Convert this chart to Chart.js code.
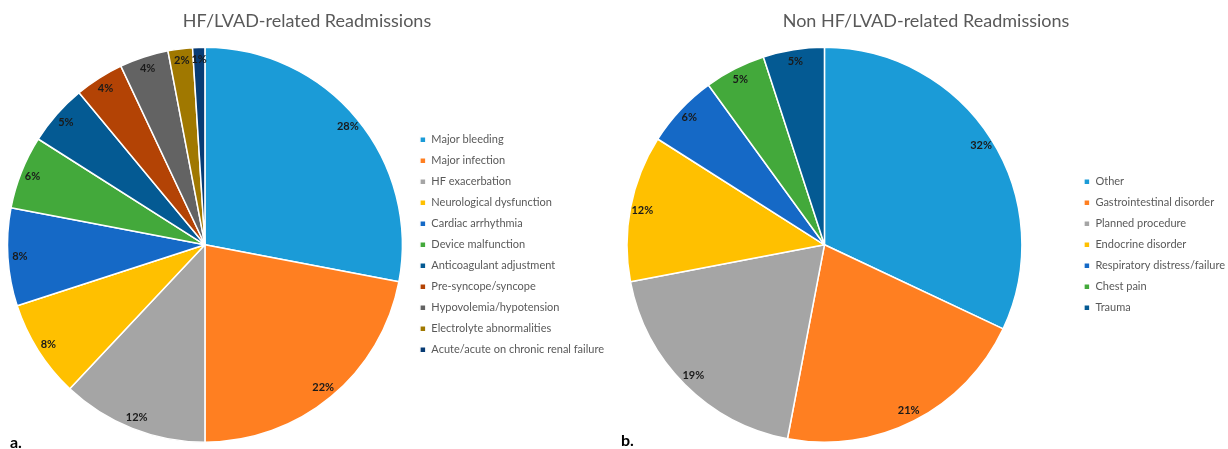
<!DOCTYPE html>
<html>
<head>
<meta charset="utf-8">
<title>Readmissions after LVAD</title>
<script src="https://cdn.jsdelivr.net/npm/chart.js@4.4.0/dist/chart.umd.min.js"></script>
<style>
  html, body { margin: 0; padding: 0; background: #fff; }
  body { width: 1228px; height: 449px; position: relative; overflow: hidden; font-family: Lato, "Open Sans", sans-serif; }
  .panel { position: absolute; top: 0; height: 449px; }
  #leftPanel { left: 0; width: 614px; }
  #rightPanel { left: 617px; width: 618px; }
  .tag { position: absolute; font-weight: bold; font-size: 16px; line-height: 16px; color: #000; }
</style>
</head>
<body>
<div class="panel" id="leftPanel"><canvas id="hfChart"></canvas></div>
<div class="panel" id="rightPanel"><canvas id="nonHfChart"></canvas></div>
<div class="tag" style="left:10px; top:434px;">a.</div>
<div class="tag" style="left:621px; top:432px;">b.</div>

<script>
// Causes of HF/LVAD-related readmissions (% of readmissions)
const hfCategories = [
  "Major bleeding",
  "Major infection",
  "HF exacerbation",
  "Neurological dysfunction",
  "Cardiac arrhythmia",
  "Device malfunction",
  "Anticoagulant adjustment",
  "Pre-syncope/syncope",
  "Hypovolemia/hypotension",
  "Electrolyte abnormalities",
  "Acute/acute on chronic renal failure"
];
const hfValues = [28, 22, 12, 8, 8, 6, 5, 4, 4, 2, 1];

// Causes of readmissions not related to HF/LVAD (% of readmissions)
const nonHfCategories = [
  "Other",
  "Gastrointestinal disorder",
  "Planned procedure",
  "Endocrine disorder",
  "Respiratory distress/failure",
  "Chest pain",
  "Trauma"
];
const nonHfValues = [32, 21, 19, 12, 6, 5, 5];

// Slice palettes
const hfColors = [
  "#1B9BD7", "#FF7F21", "#A5A5A5", "#FFC000", "#1569C6", "#43A93B",
  "#045A93", "#B34305", "#636363", "#A07800", "#073B74"
];
const nonHfColors = ["#1B9BD7", "#FF7F21", "#A5A5A5", "#FFC000", "#1569C6", "#43A93B", "#045A93"];

const FONT = "Lato, 'Open Sans', sans-serif";

// Writes each slice's percentage just inside its outer edge
const sliceLabels = {
  id: "sliceLabels",
  afterDatasetsDraw(chart) {
    const ctx = chart.ctx;
    const meta = chart.getDatasetMeta(0);
    const values = chart.data.datasets[0].data;
    ctx.save();
    ctx.font = "bold 11px " + FONT;
    ctx.fillStyle = "#1a1a1a";
    ctx.textAlign = "center";
    ctx.textBaseline = "middle";
    meta.data.forEach((arc, i) => {
      const p = arc.getProps(["x", "y", "startAngle", "endAngle", "outerRadius"], true);
      const mid = (p.startAngle + p.endAngle) / 2;
      const r = p.outerRadius - 12;
      ctx.fillText(values[i] + "%", p.x + Math.cos(mid) * r, p.y + Math.sin(mid) * r);
    });
    ctx.restore();
  }
};

// Leaves a gutter between the pie area and the legend
const legendGutter = {
  id: "legendGutter",
  afterLayout(chart, args, opts) {
    const gap = opts.gap || 0;
    if (!gap || !chart.legend) return;
    const area = chart.chartArea;
    area.right = Math.min(area.right, chart.legend.left - gap);
    area.width = area.right - area.left;
  }
};

function makePie(canvasId, title, labels, values, colors, gap) {
  return new Chart(document.getElementById(canvasId), {
    type: "pie",
    data: {
      labels: labels,
      datasets: [{
        data: values,
        backgroundColor: colors,
        borderColor: "#ffffff",
        borderWidth: 1.5
      }]
    },
    options: {
      responsive: true,
      maintainAspectRatio: false,
      animation: false,
      layout: { padding: { top: 0, bottom: 6, left: 0, right: 0 } },
      plugins: {
        title: {
          display: true,
          text: title,
          color: "#595959",
          font: { family: FONT, size: 18, weight: "normal" },
          padding: { top: 10, bottom: 15 }
        },
        legend: {
          position: "right",
          fullSize: false,
          labels: {
            color: "#595959",
            font: { family: FONT, size: 11 },
            boxWidth: 6,
            boxHeight: 6,
            padding: 10
          }
        },
        legendGutter: { gap: gap },
        tooltip: { enabled: false }
      }
    },
    plugins: [sliceLabels, legendGutter]
  });
}

makePie("hfChart", "HF/LVAD-related Readmissions", hfCategories, hfValues, hfColors, 0);
makePie("nonHfChart", "Non HF/LVAD-related Readmissions", nonHfCategories, nonHfValues, nonHfColors, 42);
</script>
</body>
</html>
